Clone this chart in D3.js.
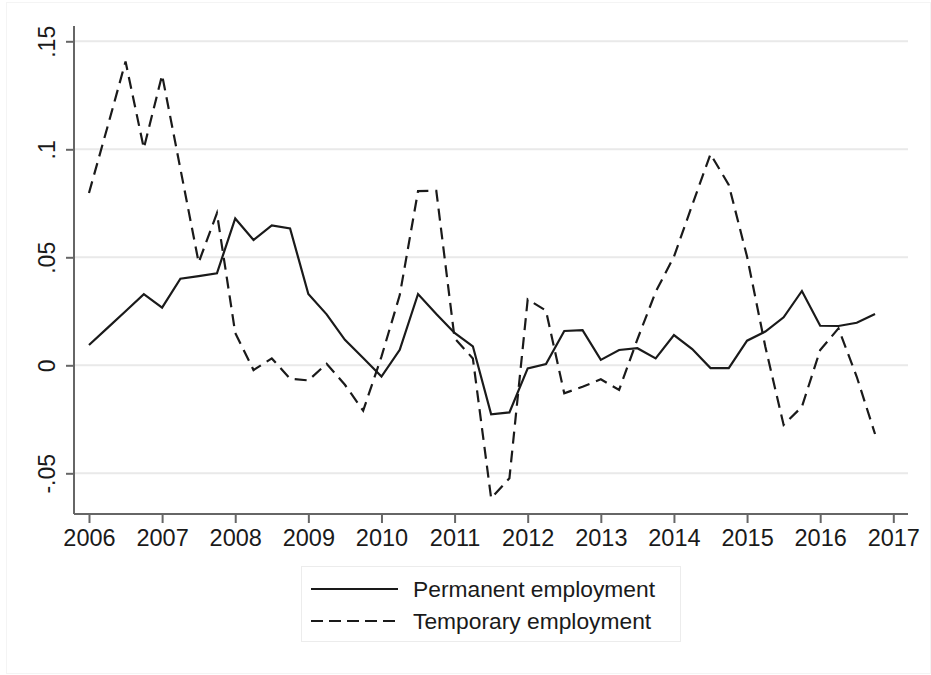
<!DOCTYPE html>
<html>
<head>
<meta charset="utf-8">
<script src="https://cdn.jsdelivr.net/npm/d3@7"></script>
<style>
  html, body { margin: 0; padding: 0; background: #fff; }
  svg { display: block; font-family: "Liberation Sans", Arial, Helvetica, sans-serif; }
</style>
</head>
<body>
<svg id="chart" width="931" height="675"></svg>
<script>
// Quarterly periods (decimal years)
const quarters = [
  2006.00, 2006.25, 2006.50, 2006.75,
  2007.00, 2007.25, 2007.50, 2007.75,
  2008.00, 2008.25, 2008.50, 2008.75,
  2009.00, 2009.25, 2009.50, 2009.75,
  2010.00, 2010.25, 2010.50, 2010.75,
  2011.00, 2011.25, 2011.50, 2011.75,
  2012.00, 2012.25, 2012.50, 2012.75,
  2013.00, 2013.25, 2013.50, 2013.75,
  2014.00, 2014.25, 2014.50, 2014.75,
  2015.00, 2015.25, 2015.50, 2015.75,
  2016.00, 2016.25, 2016.50, 2016.75
];

// Growth of permanent employment
const permanent = [
  0.0094, 0.0172, 0.0250, 0.0329,
  0.0267, 0.0401, 0.0413, 0.0426,
  0.0680, 0.0580, 0.0648, 0.0634,
  0.0330, 0.0236, 0.0118, 0.0034,
  -0.0052, 0.0072, 0.0330, 0.0238,
  0.0150, 0.0088, -0.0227, -0.0218,
  -0.0014, 0.0006, 0.0159, 0.0163,
  0.0025, 0.0071, 0.0079, 0.0032,
  0.0140, 0.0075, -0.0013, -0.0013,
  0.0114, 0.0156, 0.0222, 0.0344,
  0.0183, 0.0182, 0.0197, 0.0238
];

// Growth of temporary employment
const temporary = [
  0.0798, 0.1100, 0.1406, 0.1005,
  0.1344, 0.0910, 0.0476, 0.0704,
  0.0150, -0.0022, 0.0032, -0.0062,
  -0.0070, 0.0007, -0.0090, -0.0210,
  0.0040, 0.0325, 0.0806, 0.0808,
  0.0125, 0.0032, -0.0616, -0.0523,
  0.0305, 0.0253, -0.0130, -0.0099,
  -0.0065, -0.0114, 0.0120, 0.0340,
  0.0503, 0.0742, 0.0978, 0.0835,
  0.0503, 0.0086, -0.0276, -0.0192,
  0.0071, 0.0171, -0.0053, -0.0318
];

const xTicks = [2006, 2007, 2008, 2009, 2010, 2011, 2012, 2013, 2014, 2015, 2016, 2017];
const yTicks = [-0.05, 0, 0.05, 0.10, 0.15];
const yTickLabels = ["-.05", "0", ".05", ".1", ".15"];

const seriesNames = ["Permanent employment", "Temporary employment"];

const svg = d3.select("#chart");

// faint outer frame of the graph region
svg.append("rect")
  .attr("x", 6.5).attr("y", 2.5)
  .attr("width", 924).attr("height", 671)
  .attr("fill", "#fff")
  .attr("stroke", "#f4f4f4")
  .attr("stroke-width", 1);

const plot = { left: 74, right: 908, top: 26, bottom: 514 };

const x = d3.scaleLinear()
  .domain([2005.795, 2017.201])
  .range([plot.left, plot.right]);

const y = d3.scaleLinear()
  .domain([-0.06884, 0.15708])
  .range([plot.bottom, plot.top]);

// horizontal grid
svg.append("g")
  .selectAll("line")
  .data(yTicks)
  .join("line")
  .attr("x1", plot.left)
  .attr("x2", plot.right)
  .attr("y1", d => y(d))
  .attr("y2", d => y(d))
  .attr("stroke", "#e9e9e9")
  .attr("stroke-width", 2);

// y axis
const yAxis = d3.axisLeft(y)
  .tickValues(yTicks)
  .tickSize(8)
  .tickPadding(0)
  .tickFormat((d, i) => yTickLabels[i]);

const yg = svg.append("g")
  .attr("transform", `translate(${plot.left},0)`)
  .call(yAxis);
yg.select(".domain")
  .attr("d", `M0,${plot.top}V${plot.bottom}`)
  .attr("stroke", "#666")
  .attr("stroke-width", 2);
yg.selectAll(".tick line").attr("stroke", "#666").attr("stroke-width", 2);
yg.selectAll(".tick text")
  .attr("x", 0).attr("y", 0).attr("dy", 0)
  .attr("transform", "translate(-19,0) rotate(-90)")
  .attr("text-anchor", "middle")
  .attr("fill", "#1a1a1a")
  .style("font-size", "23px");

// x axis
const xAxis = d3.axisBottom(x)
  .tickValues(xTicks)
  .tickSize(9)
  .tickPadding(0)
  .tickFormat(d3.format("d"));

const xg = svg.append("g")
  .attr("transform", `translate(0,${plot.bottom})`)
  .call(xAxis);
xg.select(".domain")
  .attr("d", `M${plot.left},0H${plot.right}`)
  .attr("stroke", "#666")
  .attr("stroke-width", 2);
xg.selectAll(".tick line").attr("stroke", "#666").attr("stroke-width", 2);
xg.selectAll(".tick text")
  .attr("y", 32).attr("dy", 0)
  .attr("fill", "#1a1a1a")
  .style("font-size", "23.5px");

// series lines
const line = d3.line()
  .x(d => x(d[0]))
  .y(d => y(d[1]));

svg.append("path")
  .datum(d3.zip(quarters, permanent))
  .attr("d", line)
  .attr("fill", "none")
  .attr("stroke", "#1a1a1a")
  .attr("stroke-width", 2.2)
  .attr("stroke-linejoin", "miter");

svg.append("path")
  .datum(d3.zip(quarters, temporary))
  .attr("d", line)
  .attr("fill", "none")
  .attr("stroke", "#1a1a1a")
  .attr("stroke-width", 2.2)
  .attr("stroke-dasharray", "12,7")
  .attr("stroke-linejoin", "miter");

// legend
const legend = svg.append("g");
legend.append("rect")
  .attr("x", 301.5).attr("y", 566.5)
  .attr("width", 379).attr("height", 75)
  .attr("fill", "#fff")
  .attr("stroke", "#ececec")
  .attr("stroke-width", 1);

const legendRows = [
  { name: seriesNames[0], dash: null, y: 589 },
  { name: seriesNames[1], dash: "12,6", y: 621 }
];

legendRows.forEach(r => {
  legend.append("line")
    .attr("x1", 311).attr("x2", 398)
    .attr("y1", r.y).attr("y2", r.y)
    .attr("stroke", "#1a1a1a")
    .attr("stroke-width", 2.2)
    .attr("stroke-dasharray", r.dash);
  legend.append("text")
    .attr("x", 413)
    .attr("y", r.y + 8)
    .attr("fill", "#1a1a1a")
    .style("font-size", "22.8px")
    .text(r.name);
});
</script>
</body>
</html>
